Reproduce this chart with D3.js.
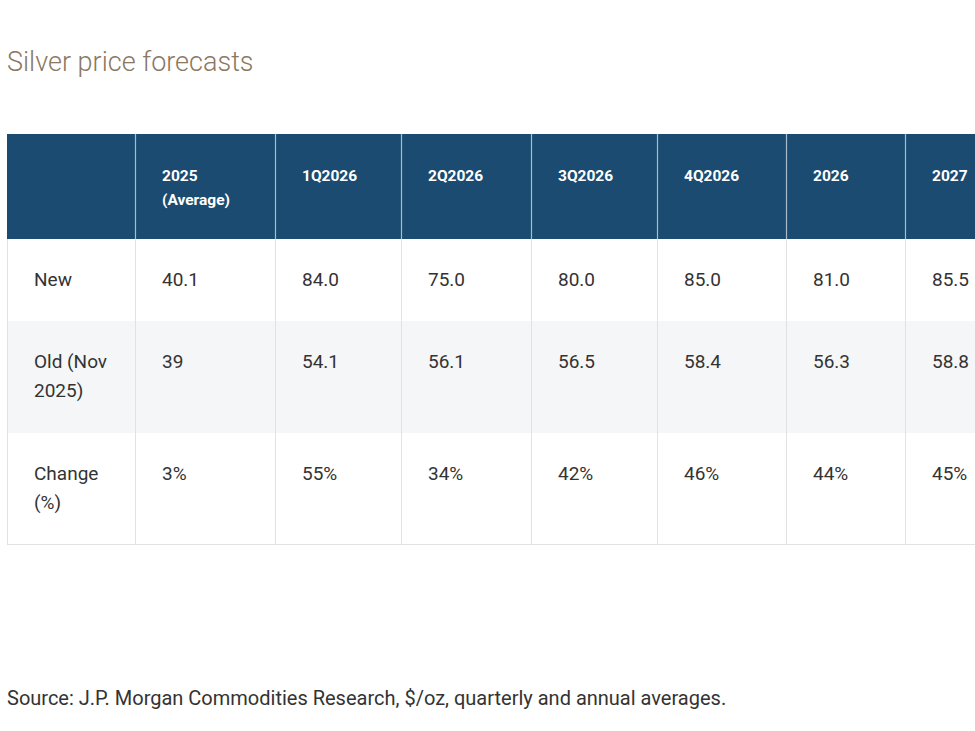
<!DOCTYPE html>
<html lang="en">
<head>
<meta charset="utf-8">
<title>Silver price forecasts</title>
<script src="https://d3js.org/d3.v7.min.js"></script>
<style>
  html, body { margin: 0; padding: 0; background: #fff; }
  svg { display: block; overflow: hidden; }
  .title { font-family: Roboto, "Open Sans", sans-serif; font-size: 27px; font-weight: 300; fill: #8b7762; }
  .head { font-family: Roboto, "Open Sans", sans-serif; font-size: 15.5px; font-weight: bold; fill: #fff; }
  .cell { font-family: Roboto, "Open Sans", sans-serif; font-size: 19px; fill: #333; }
  .source { font-family: Roboto, "Open Sans", sans-serif; font-size: 20px; fill: #333; }
</style>
</head>
<body>
<script>
// table contents
var columns = ["2025\n(Average)", "1Q2026", "2Q2026", "3Q2026", "4Q2026", "2026", "2027"];
var rowLabels = ["New", "Old (Nov\n2025)", "Change\n(%)"];
var newValues = [40.1, 84.0, 75.0, 80.0, 85.0, 81.0, 85.5];
var oldValues = [39, 54.1, 56.1, 56.5, 58.4, 56.3, 58.8];
var changeValues = [3, 55, 34, 42, 46, 44, 45];

var title = "Silver price forecasts";
var source = "Source: J.P. Morgan Commodities Research, $/oz, quarterly and annual averages.";

var width = 975, height = 731;

// layout
var tableLeft = 7, tableTop = 134;
var colWidths = [128, 140, 126, 130, 126, 129, 119, 130];
var headerHeight = 105, rowBase = 52, lineH = 30, headLineH = 24, padX = 27, baseOff = 47;

var rows = [
  { label: rowLabels[0], values: newValues.map(d3.format(".1f")) },
  { label: rowLabels[1], values: oldValues.map(String) },
  { label: rowLabels[2], values: changeValues.map(function(d) { return d + "%"; }) }
];

var keys = ["label"].concat(columns.map(function(d, i) { return "c" + i; }));
var edges = [tableLeft];
colWidths.forEach(function(cw) { edges.push(edges[edges.length - 1] + cw); });
var x = d3.scaleOrdinal().domain(keys).range(edges);

// row positions
var rowTops = [tableTop + headerHeight];
rows.forEach(function(r) {
  r.lines = r.label.split("\n").length;
  r.h = rowBase + r.lines * lineH;
  rowTops.push(rowTops[rowTops.length - 1] + r.h);
});
var tableBottom = rowTops[rowTops.length - 1];

var svg = d3.select("body").append("svg")
    .attr("width", width)
    .attr("height", height);

svg.append("text")
    .attr("class", "title")
    .attr("x", tableLeft)
    .attr("y", 71)
    .text(title);

// header background
svg.append("rect")
    .attr("x", tableLeft)
    .attr("y", tableTop)
    .attr("width", width - tableLeft + 100)
    .attr("height", headerHeight)
    .attr("fill", "#1b4b70");

// body rows
svg.selectAll(".rowbg")
  .data(rows)
  .enter().append("rect")
    .attr("class", "rowbg")
    .attr("x", tableLeft)
    .attr("y", function(d, i) { return rowTops[i]; })
    .attr("width", width - tableLeft + 100)
    .attr("height", function(d) { return d.h; })
    .attr("fill", function(d, i) { return i % 2 ? "#f5f6f7" : "#fff"; });

// header separators
svg.selectAll(".hsep")
  .data(keys.slice(1))
  .enter().append("line")
    .attr("class", "hsep")
    .attr("x1", function(k) { return x(k) + 0.5; })
    .attr("x2", function(k) { return x(k) + 0.5; })
    .attr("y1", tableTop)
    .attr("y2", tableTop + headerHeight)
    .attr("stroke", "#a7bccc")
    .attr("stroke-width", 1.2);

// body separators
svg.selectAll(".bsep")
  .data(keys)
  .enter().append("line")
    .attr("class", "bsep")
    .attr("x1", function(k) { return x(k) + 0.5; })
    .attr("x2", function(k) { return x(k) + 0.5; })
    .attr("y1", tableTop + headerHeight)
    .attr("y2", tableBottom)
    .attr("stroke", "#e2e2e2")
    .attr("stroke-width", 1);

svg.append("line")
    .attr("x1", tableLeft)
    .attr("x2", width + 100)
    .attr("y1", tableBottom - 0.5)
    .attr("y2", tableBottom - 0.5)
    .attr("stroke", "#e2e2e2");

function multiline(sel, str, lh) {
  str.split("\n").forEach(function(s, i) {
    sel.append("tspan")
        .attr("x", sel.attr("x"))
        .attr("dy", i ? lh : 0)
        .text(s);
  });
}

// header labels
svg.selectAll(".head")
  .data(columns)
  .enter().append("text")
    .attr("class", "head")
    .attr("x", function(d, i) { return x("c" + i) + padX; })
    .attr("y", tableTop + baseOff)
    .each(function(d) { multiline(d3.select(this), d, headLineH); });

// body cells
rows.forEach(function(r, ri) {
  var y0 = rowTops[ri] + baseOff;
  svg.append("text")
      .attr("class", "cell")
      .attr("x", x("label") + padX)
      .attr("y", y0)
      .each(function() { multiline(d3.select(this), r.label, 29); });
  svg.selectAll(".cell-r" + ri)
    .data(r.values)
    .enter().append("text")
      .attr("class", "cell cell-r" + ri)
      .attr("x", function(d, i) { return x("c" + i) + padX; })
      .attr("y", y0)
      .text(function(d) { return d; });
});

svg.append("text")
    .attr("class", "source")
    .attr("x", tableLeft)
    .attr("y", 705)
    .text(source);
</script>
</body>
</html>
